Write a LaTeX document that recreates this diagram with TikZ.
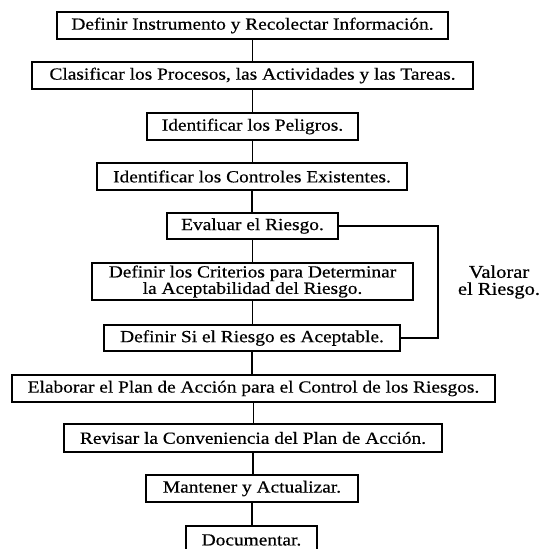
\documentclass[tikz,border=0pt]{standalone}
\usepackage{fontspec}
\setmainfont[FakeStretch=1.14,FakeBold=0.5]{Liberation Serif}
\begin{document}
\begin{tikzpicture}[x=1pt,y=-1pt,
  stepbox/.style={draw,line width=1.8pt,inner sep=0pt,align=center,
    font=\fontsize{17}{13}\selectfont},
  link/.style={line width=1.8pt}]
\useasboundingbox (0,0) rectangle (543,549);
\clip (0,0) rectangle (543,549);
\node[stepbox,minimum width=391pt,minimum height=27pt] (b1) at (252.5,25.5) {Definir Instrumento y Recolectar Información.};
\node[stepbox,minimum width=441pt,minimum height=27pt] (b2) at (252.5,75.5) {Clasificar los Procesos, las Actividades y las Tareas.};
\node[stepbox,minimum width=211pt,minimum height=27pt] (b3) at (252.5,126.5) {Identificar los Peligros.};
\node[stepbox,minimum width=310pt,minimum height=27pt] (b4) at (252,176.5) {Identificar los Controles Existentes.};
\node[stepbox,minimum width=171pt,minimum height=26pt] (b5) at (252.5,226) {Evaluar el Riesgo.};
\node[stepbox,minimum width=321pt,minimum height=37pt] (b6) at (252.5,281.5) {Definir los Criterios para Determinar\\la Aceptabilidad del Riesgo.};
\node[stepbox,minimum width=296pt,minimum height=26pt] (b7) at (252,338) {Definir Si el Riesgo es Aceptable.};
\node[stepbox,minimum width=483pt,minimum height=27pt] (b8) at (253.5,388.5) {Elaborar el Plan de Acción para el Control de los Riesgos.};
\node[stepbox,minimum width=378pt,minimum height=28pt] (b9) at (253,438) {Revisar la Conveniencia del Plan de Acción.};
\node[stepbox,minimum width=212pt,minimum height=27pt] (b10) at (252,488.5) {Mantener y Actualizar.};
\node[stepbox,minimum width=131pt,minimum height=28pt] (b11) at (251.5,540) {Documentar.};
\node[align=center,inner sep=0pt,font=\fontsize{18}{17}\selectfont] (val) at (499,282) {Valorar\\el Riesgo.};
\coordinate (c1) at (438,226);
\coordinate (c2) at (438,338);
\foreach \a/\b in {b1/b2,b2/b3,b3/b4,b4/b5,b5/b6,b6/b7,b7/b8,b8/b9,b9/b10,b10/b11}
  \draw[link] (\a.south) -- (\a.south |- \b.north);
\draw[link] (b5.east) -- (c1) -- (c2) -- (b7.east);
\end{tikzpicture}
\end{document}
